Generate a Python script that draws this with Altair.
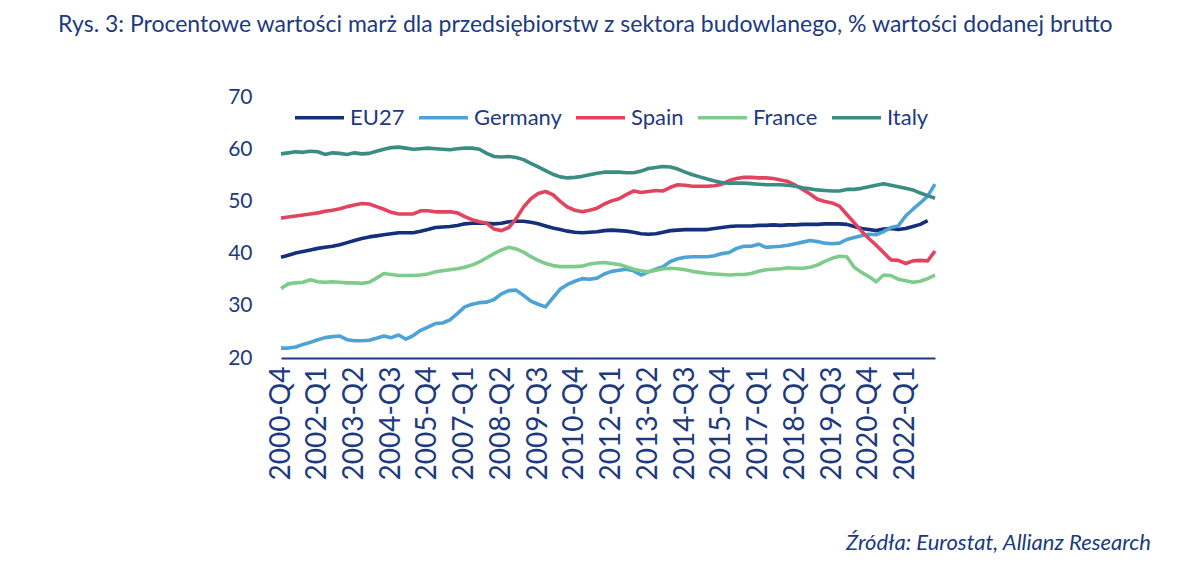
import altair as alt
import pandas as pd

quarters = [f"{y}-Q{q}" for y in range(2000, 2024) for q in range(1, 5)][3:93]

tick_labels = ["2000-Q4", "2002-Q1", "2003-Q2", "2004-Q3", "2005-Q4", "2007-Q1",
               "2008-Q2", "2009-Q3", "2010-Q4", "2012-Q1", "2013-Q2", "2014-Q3",
               "2015-Q4", "2017-Q1", "2018-Q2", "2019-Q3", "2020-Q4", "2022-Q1"]

series_names = ["EU27", "Germany", "Spain", "France", "Italy"]
series_colors = ["#15307a", "#4ea3d6", "#e2445f", "#7ecb8b", "#3b8c82"]

eu27 = [39.3, 39.7, 40.1, 40.4, 40.7, 41.0, 41.2, 41.4, 41.7, 42.1,
        42.5, 42.9, 43.2, 43.4, 43.6, 43.8, 44.0, 44.0, 44.0, 44.3,
        44.6, 45.0, 45.1, 45.2, 45.4, 45.7, 45.8, 45.8, 45.8, 45.7,
        45.8, 46.1, 46.2, 46.2, 46.0, 45.7, 45.3, 44.9, 44.6, 44.3,
        44.1, 44.0, 44.1, 44.2, 44.4, 44.5, 44.4, 44.3, 44.1, 43.8,
        43.7, 43.8, 44.1, 44.4, 44.5, 44.6, 44.6, 44.6, 44.6, 44.8,
        45.0, 45.2, 45.3, 45.3, 45.3, 45.4, 45.4, 45.5, 45.4, 45.5,
        45.5, 45.6, 45.6, 45.6, 45.7, 45.7, 45.7, 45.6, 45.2, 44.8,
        44.6, 44.4, 44.7, 44.8, 44.6, 44.8, 45.2, 45.6, 46.3, None]

germany = [21.9, 21.9, 22.1, 22.6, 23.0, 23.5, 23.9, 24.1, 24.2, 23.5,
           23.3, 23.3, 23.4, 23.8, 24.2, 23.9, 24.4, 23.6, 24.3, 25.3,
           25.9, 26.6, 26.7, 27.3, 28.5, 29.8, 30.3, 30.6, 30.7, 31.2,
           32.3, 32.9, 33.0, 32.0, 30.9, 30.3, 29.8, 31.5, 33.2, 34.1,
           34.7, 35.2, 35.1, 35.3, 36.1, 36.6, 36.8, 37.0, 36.7, 35.9,
           36.5, 37.0, 37.5, 38.5, 39.0, 39.3, 39.4, 39.4, 39.4, 39.6,
           40.0, 40.2, 41.0, 41.4, 41.4, 41.8, 41.2, 41.3, 41.4, 41.6,
           41.9, 42.2, 42.5, 42.3, 42.0, 41.9, 42.0, 42.7, 43.1, 43.4,
           43.7, 43.6, 44.2, 45.0, 45.3, 47.2, 48.5, 49.7, 51.0, 53.3]

spain = [46.8, 47.0, 47.2, 47.4, 47.6, 47.8, 48.1, 48.3, 48.6, 49.0,
         49.3, 49.6, 49.5, 49.0, 48.5, 47.9, 47.6, 47.6, 47.6, 48.2,
         48.2, 48.0, 48.0, 48.0, 47.8, 47.1, 46.5, 46.1, 45.8, 44.7,
         44.4, 45.0, 46.7, 48.9, 50.5, 51.5, 51.9, 51.3, 50.0, 48.9,
         48.3, 48.0, 48.3, 48.7, 49.5, 50.1, 50.5, 51.3, 52.0, 51.7,
         51.9, 52.1, 52.0, 52.7, 53.2, 53.1, 52.9, 52.9, 52.9, 53.0,
         53.3, 54.0, 54.4, 54.6, 54.6, 54.5, 54.5, 54.4, 54.1, 53.8,
         53.1, 52.3, 51.4, 50.4, 50.0, 49.7, 49.1, 47.5, 45.9, 44.3,
         42.9, 41.6, 40.2, 38.8, 38.7, 38.1, 38.6, 38.7, 38.6, 40.5]

france = [33.3, 34.2, 34.4, 34.5, 35.0, 34.6, 34.5, 34.6, 34.5, 34.4,
          34.4, 34.3, 34.5, 35.3, 36.2, 36.0, 35.8, 35.8, 35.8, 35.9,
          36.1, 36.5, 36.7, 36.9, 37.1, 37.4, 37.8, 38.4, 39.2, 40.0,
          40.7, 41.2, 40.9, 40.3, 39.4, 38.7, 38.1, 37.7, 37.5, 37.5,
          37.5, 37.6, 38.0, 38.2, 38.3, 38.1, 37.9, 37.5, 37.0, 36.7,
          36.5, 36.8, 37.1, 37.2, 37.1, 36.9, 36.6, 36.4, 36.2, 36.1,
          36.0, 35.9, 36.0, 36.0, 36.2, 36.6, 36.9, 37.0, 37.1, 37.3,
          37.2, 37.2, 37.4, 37.8, 38.5, 39.1, 39.5, 39.4, 37.4, 36.4,
          35.6, 34.6, 35.9, 35.8, 35.1, 34.8, 34.5, 34.7, 35.2, 35.9]

italy = [59.1, 59.3, 59.5, 59.4, 59.6, 59.5, 59.0, 59.3, 59.2, 59.0,
         59.3, 59.1, 59.2, 59.6, 60.0, 60.3, 60.4, 60.2, 60.0, 60.1,
         60.2, 60.1, 60.0, 59.9, 60.1, 60.2, 60.2, 60.0, 59.2, 58.6,
         58.5, 58.6, 58.4, 58.0, 57.3, 56.6, 55.9, 55.2, 54.7, 54.5,
         54.6, 54.8, 55.1, 55.4, 55.6, 55.6, 55.6, 55.5, 55.5, 55.8,
         56.3, 56.5, 56.7, 56.6, 56.2, 55.6, 55.1, 54.7, 54.3, 53.9,
         53.6, 53.5, 53.5, 53.5, 53.4, 53.3, 53.2, 53.2, 53.2, 53.1,
         52.9, 52.6, 52.4, 52.2, 52.1, 52.0, 52.0, 52.3, 52.3, 52.5,
         52.8, 53.1, 53.4, 53.1, 52.8, 52.5, 52.2, 51.6, 51.1, 50.6]

title_text = "Rys. 3: Procentowe wartości marż dla przedsiębiorstw z sektora budowlanego, % wartości dodanej brutto"
source_text = "Źródła: Eurostat, Allianz Research"

NAVY = "#1d3a80"
FONT = "Lato"

rows = []
for name, vals in zip(series_names, [eu27, germany, spain, france, italy]):
    for q, v in zip(quarters, vals):
        if v is not None:
            rows.append({"quarter": q, "value": v, "series": name})
df = pd.DataFrame(rows)

lines = alt.Chart(df).mark_line(strokeWidth=3.6, strokeJoin="round").encode(
    x=alt.X("quarter:O",
            scale=alt.Scale(domain=quarters, type="point", padding=0),
            axis=alt.Axis(values=tick_labels, labelAngle=-90, title=None,
                          ticks=False, domainColor=NAVY, domainWidth=2,
                          labelColor=NAVY, labelFont=FONT, labelFontSize=28,
                          labelPadding=8)),
    y=alt.Y("value:Q",
            scale=alt.Scale(domain=[20, 70], nice=False, zero=False),
            axis=alt.Axis(values=[20, 30, 40, 50, 60, 70], title=None,
                          grid=False, domain=False, ticks=False,
                          labelColor=NAVY, labelFont=FONT, labelFontSize=21,
                          labelPadding=29)),
    color=alt.Color("series:N",
                    scale=alt.Scale(domain=series_names, range=series_colors),
                    legend=alt.Legend(orient="none", direction="horizontal",
                                      legendX=12, legendY=-6, title=None,
                                      symbolType="stroke", symbolSize=2400,
                                      symbolStrokeWidth=3.6, labelOffset=4,
                                      columnPadding=6, padding=0,
                                      labelFont=FONT, labelFontSize=22,
                                      labelColor=NAVY)),
    order=alt.Order("series:N")
)

source_df = pd.DataFrame({"label": [source_text]})
source = alt.Chart(source_df).mark_text(
    align="right", baseline="middle", font=FONT, fontSize=22,
    fontStyle="italic", color=NAVY
).encode(text="label:N", x=alt.value(870), y=alt.value(446))

chart = alt.layer(lines, source).properties(
    width=654, height=261,
    autosize=alt.AutoSizeParams(type="none"),
    padding={"left": 273, "top": 89, "right": 257, "bottom": 217},
    title=alt.TitleParams(title_text, anchor="start", frame="group",
                          dx=-223, offset=49, font=FONT, fontSize=23,
                          fontWeight="normal", color=NAVY)
).configure(background="white", view=alt.ViewConfig(stroke="transparent", strokeWidth=0))

chart.save("out.html", embed_options={"renderer": "svg", "actions": False})
